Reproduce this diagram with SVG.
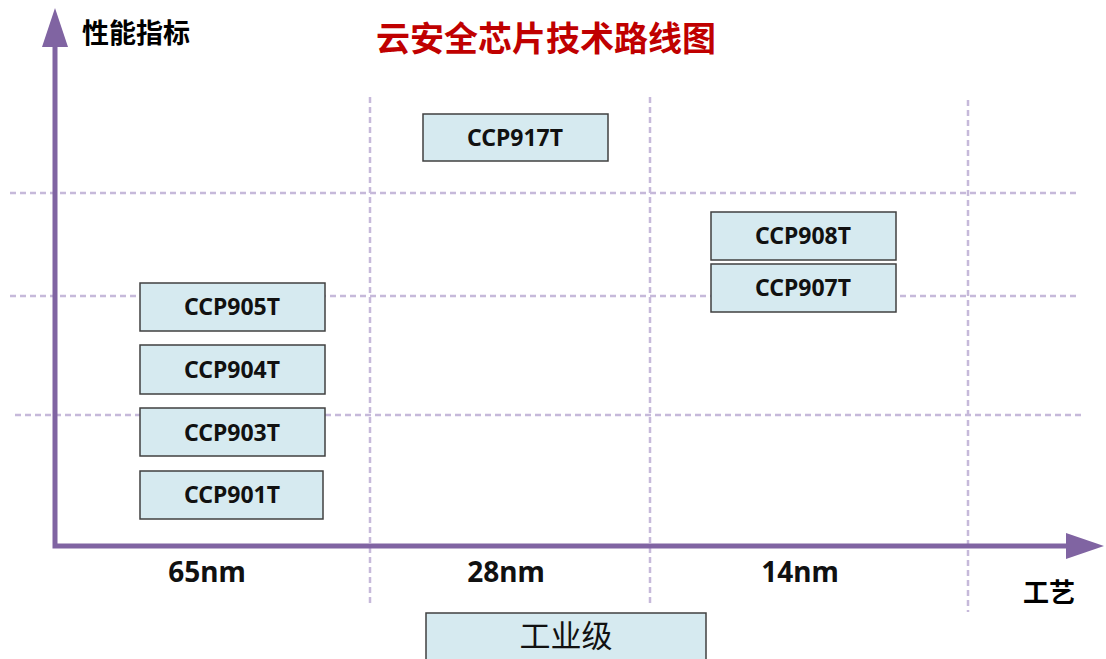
<svg xmlns="http://www.w3.org/2000/svg" width="1106" height="659" viewBox="0 0 1106 659">
<style>
.grid{stroke:#c6b9da;stroke-width:2.5;stroke-dasharray:6 4;fill:none}
.axis{stroke:#8064a2;stroke-width:5;fill:none}
.box{fill:#d6eaf0;stroke:#404040;stroke-width:1.5}
.lbl{font-family:"Noto Sans","Open Sans","Liberation Sans",sans-serif;font-weight:bold;font-size:23px;fill:#111;text-anchor:middle}
.tick{font-family:"Noto Sans","Open Sans","Liberation Sans",sans-serif;font-weight:bold;font-size:28px;fill:#111;text-anchor:middle}
.cjk{font-family:"Noto Sans CJK SC","Noto Sans",sans-serif}
</style>
<rect width="1106" height="659" fill="#fff"/>
<g id="grid">
<line class="grid" x1="370" y1="97" x2="370" y2="607"/>
<line class="grid" x1="650" y1="97" x2="650" y2="607"/>
<line class="grid" x1="968" y1="100" x2="968" y2="612"/>
<line class="grid" x1="10" y1="193" x2="1080" y2="193"/>
<line class="grid" x1="10" y1="296" x2="1080" y2="296"/>
<line class="grid" x1="15" y1="415" x2="1085" y2="415"/>
</g>
<g id="connectors">
<polyline class="axis" points="55,45 55,546 1068,546"/>
<polygon points="55,8 42,47 68,47" fill="#8064a2"/>
<polygon points="1104,546 1066,533 1066,559" fill="#8064a2"/>
</g>
<text class="cjk" x="546" y="51" font-size="34" font-weight="bold" fill="#c00000" text-anchor="middle">云安全芯片技术路线图</text>
<text class="cjk" x="82" y="43" font-size="27" font-weight="bold" fill="#000">性能指标</text>
<text class="cjk" x="1049" y="602" font-size="26" font-weight="bold" fill="#000" text-anchor="middle">工艺</text>
<text class="tick" x="207" y="582">65nm</text>
<text class="tick" x="506" y="582">28nm</text>
<text class="tick" x="800" y="582">14nm</text>
<g id="n917"><rect class="box" x="423" y="114" width="185" height="47"/><text class="lbl" x="515" y="146">CCP917T</text></g>
<g id="n908"><rect class="box" x="711" y="212" width="185" height="48"/><text class="lbl" x="803" y="244">CCP908T</text></g>
<g id="n907"><rect class="box" x="711" y="264" width="185" height="48"/><text class="lbl" x="803" y="296">CCP907T</text></g>
<g id="n905"><rect class="box" x="140" y="283" width="185" height="48"/><text class="lbl" x="232" y="315">CCP905T</text></g>
<g id="n904"><rect class="box" x="140" y="345" width="185" height="49"/><text class="lbl" x="232" y="378">CCP904T</text></g>
<g id="n903"><rect class="box" x="140" y="408" width="185" height="48"/><text class="lbl" x="232" y="441">CCP903T</text></g>
<g id="n901"><rect class="box" x="140" y="471" width="183" height="48"/><text class="lbl" x="232" y="503">CCP901T</text></g>
<g id="nind"><rect class="box" x="426" y="613" width="280" height="50"/><text class="cjk" x="566" y="647" font-size="31" fill="#111" text-anchor="middle">工业级</text></g>
</svg>
